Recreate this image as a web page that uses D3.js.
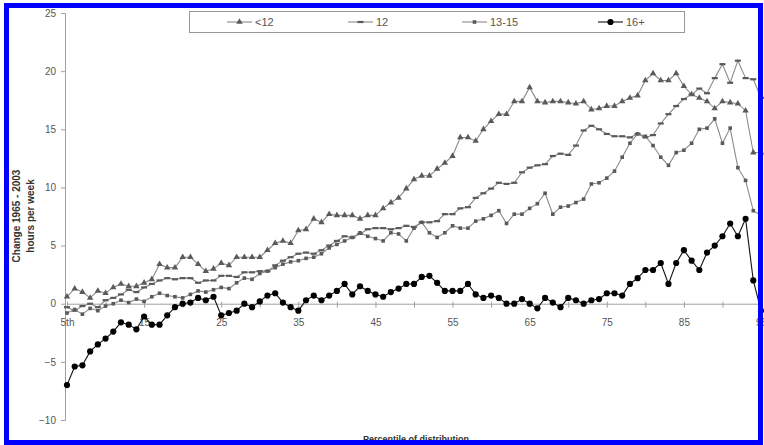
<!DOCTYPE html>
<html>
<head>
<meta charset="utf-8">
<script src="https://cdn.jsdelivr.net/npm/d3@7"></script>
<style>
  body { margin: 0; background: #fff; }
  svg { display: block; font-family: "Liberation Sans", Arial, sans-serif; }
</style>
</head>
<body>
<div id="canvas"></div>
<script>
// percentiles 5th .. 95th
const percentiles = d3.range(5, 96);

const xTickValues = [5, 10, 15, 20, 25, 30, 35, 40, 45, 50, 55, 60, 65, 70, 75, 80, 85, 90, 95];
const xTickLabels = { 5: "5th", 15: "15", 25: "25", 35: "35", 45: "45", 55: "55", 65: "65", 75: "75", 85: "85", 95: "95" };
const yTickValues = [-10, -5, 0, 5, 10, 15, 20, 25];

const seriesNames = ["<12", "12", "13-15", "16+"];

const lessThan12 = [
  0.6, 1.3, 1.0, 0.5, 1.1, 0.9, 1.4, 1.7, 1.5, 1.5,
  1.8, 2.1, 3.4, 3.1, 3.1, 4.0, 4.0, 3.4, 2.8, 3.0,
  3.5, 3.3, 4.0, 4.0, 4.0, 4.0, 4.6, 5.2, 5.4, 5.2,
  6.3, 6.4, 7.3, 7.0, 7.7, 7.6, 7.6, 7.6, 7.3, 7.6,
  7.6, 8.2, 8.7, 9.1, 9.9, 10.7, 11.0, 11.0, 11.6, 12.1,
  12.7, 14.3, 14.3, 14.0, 15.0, 15.7, 16.3, 16.3, 17.4, 17.4,
  18.6, 17.4, 17.3, 17.4, 17.4, 17.3, 17.2, 17.4, 16.7, 16.8,
  17.0, 17.0, 17.4, 17.7, 17.9, 19.2, 19.8, 19.2, 19.2, 19.8,
  18.7, 18.0, 17.7, 17.4, 16.8, 17.4, 17.3, 17.2, 16.6, 13.0,
  13.0
];

const twelve = [
  -0.3, -0.6, -0.2, 0.0, -0.3, 0.3, 0.5, 0.8, 1.2, 1.0,
  1.4, 1.7, 2.0, 2.2, 2.1, 2.2, 2.2, 1.8, 2.0, 2.0,
  2.4, 2.4, 2.3, 2.7, 2.7, 2.8, 2.8, 3.3, 3.7, 4.0,
  4.3, 4.4, 4.3, 4.6, 5.0, 5.4, 5.8, 5.7, 6.0, 6.4,
  6.5, 6.5, 6.4, 6.5, 6.7, 6.6, 7.0, 7.0, 7.1, 7.7,
  7.7, 8.2, 8.3, 9.1, 9.5, 9.9, 10.4, 10.3, 10.4, 11.3,
  11.7, 11.9, 12.0, 12.7, 12.9, 12.8, 13.6, 14.9, 15.3, 15.0,
  14.6, 14.4, 14.4, 14.3, 14.6, 14.3, 14.5, 15.5, 16.3, 17.0,
  17.6, 18.0, 18.5, 18.1, 19.4, 20.6, 19.0, 20.9, 19.4, 19.3,
  17.7
];

const thirteenTo15 = [
  -0.8, -0.5, -0.9, -0.4, -0.6, -0.2, 0.0, 0.3, 0.1, 0.4,
  0.2, 0.6, 0.9, 0.7, 0.6, 0.5, 0.8, 1.1, 1.0, 1.2,
  1.4, 1.3, 1.8, 2.2, 2.1, 2.6, 2.8, 3.1, 3.4, 3.6,
  3.7, 3.9, 4.0, 4.3, 4.8, 5.1, 5.4, 5.7, 6.1, 5.8,
  5.6, 5.4, 6.1, 6.0, 5.4, 6.5, 7.0, 6.1, 5.7, 6.1,
  6.7, 6.5, 6.5, 7.1, 7.3, 7.6, 8.0, 6.9, 7.7, 7.7,
  8.2, 8.6, 9.5, 7.7, 8.3, 8.4, 8.7, 9.0, 10.3, 10.4,
  10.8, 11.4, 12.6, 13.8, 14.6, 14.4, 13.6, 12.6, 11.9, 13.0,
  13.2, 13.8, 15.0, 15.1, 15.9, 13.8, 15.1, 11.7, 10.6, 8.0,
  7.6
];

const sixteenPlus = [
  -7.0, -5.4, -5.3, -4.1, -3.5, -3.0, -2.4, -1.6, -1.8, -2.2,
  -1.1, -1.8, -1.8, -1.0, -0.3, 0.0, 0.1, 0.5, 0.3, 0.6,
  -1.0, -0.8, -0.6, 0.0, -0.3, 0.2, 0.7, 0.9, 0.1, -0.3,
  -0.6, 0.3, 0.7, 0.3, 0.7, 1.1, 1.7, 0.8, 1.5, 1.1,
  0.8, 0.6, 1.0, 1.3, 1.7, 1.7, 2.3, 2.4, 1.8, 1.1,
  1.1, 1.1, 1.7, 0.8, 0.5, 0.7, 0.5, 0.0, 0.0, 0.4,
  0.0, -0.4, 0.5, 0.1, -0.3, 0.5, 0.3, 0.0, 0.3, 0.4,
  0.9, 0.9, 0.7, 1.7, 2.2, 2.9, 2.9, 3.5, 1.7, 3.5,
  4.6, 3.7, 2.9, 4.4, 5.0, 5.8, 6.9, 5.8, 7.3, 2.0,
  -0.6
];

const width = 764;
const height = 445;

const svg = d3.select("#canvas").append("svg")
    .attr("width", width)
    .attr("height", height);

svg.append("rect").attr("width", width).attr("height", height).attr("fill", "#fff");

const x = d3.scaleLinear().domain([5, 95]).range([67, 761]);
const y = d3.scaleLinear().domain([-10, 25]).range([420, 13]);

// y axis
const yAxis = svg.append("g")
    .attr("transform", `translate(${x(5) - 2},0)`)
    .call(d3.axisLeft(y).tickValues(yTickValues).tickSize(4).tickPadding(5));
yAxis.select(".domain").attr("stroke", "#a0a0a0");
yAxis.selectAll(".tick line").attr("stroke", "#a0a0a0");
yAxis.selectAll("text").attr("fill", "#555").style("font-size", "10px");

// x axis sits at zero
const xAxis = svg.append("g")
    .attr("transform", `translate(0,${y(0)})`)
    .call(d3.axisBottom(x).tickValues(xTickValues).tickSize(4).tickPadding(11)
        .tickFormat(d => xTickLabels[d] || ""));
xAxis.select(".domain").attr("stroke", "#a0a0a0");
xAxis.selectAll(".tick line").attr("stroke", "#a0a0a0").attr("y1", -2);
xAxis.selectAll("text").attr("fill", "#555").style("font-size", "10px");

const series = [
  { name: seriesNames[0], values: lessThan12, stroke: "#8a8a8a", marker: "triangle" },
  { name: seriesNames[1], values: twelve, stroke: "#8a8a8a", marker: "dash" },
  { name: seriesNames[2], values: thirteenTo15, stroke: "#8a8a8a", marker: "square" },
  { name: seriesNames[3], values: sixteenPlus, stroke: "#111", marker: "circle" }
];

const line = d3.line()
    .x((d, i) => x(percentiles[i]))
    .y(d => y(d));

function drawMarker(sel, kind, cx, cy) {
  if (kind === "triangle") {
    sel.append("path")
      .attr("d", d3.symbol().type(d3.symbolTriangle).size(18)())
      .attr("transform", `translate(${cx},${cy})`)
      .attr("fill", "#5a5a5a");
  } else if (kind === "dash") {
    sel.append("rect")
      .attr("x", cx - 3).attr("y", cy - 1.1).attr("width", 6).attr("height", 2.2)
      .attr("fill", "#5a5a5a");
  } else if (kind === "square") {
    sel.append("rect")
      .attr("x", cx - 1.8).attr("y", cy - 1.8).attr("width", 3.6).attr("height", 3.6)
      .attr("fill", "#5a5a5a");
  } else {
    sel.append("circle")
      .attr("cx", cx).attr("cy", cy).attr("r", 3.1)
      .attr("fill", "#000");
  }
}

series.forEach(s => {
  const g = svg.append("g").attr("class", "series");
  g.append("path")
    .datum(s.values)
    .attr("fill", "none")
    .attr("stroke", s.stroke)
    .attr("stroke-width", 1.1)
    .attr("d", line);
  s.values.forEach((v, i) => drawMarker(g, s.marker, x(percentiles[i]), y(v)));
});

// legend
const legend = svg.append("g");
legend.append("rect")
    .attr("x", 189.5).attr("y", 11.5).attr("width", 495).attr("height", 21)
    .attr("fill", "#fff").attr("stroke", "#999");
const legendX = [227, 348, 462, 598];
series.forEach((s, i) => {
  const lg = legend.append("g");
  lg.append("line")
    .attr("x1", legendX[i]).attr("x2", legendX[i] + 25)
    .attr("y1", 22).attr("y2", 22)
    .attr("stroke", s.stroke).attr("stroke-width", 1.1);
  drawMarker(lg, s.marker, legendX[i] + 12.5, 22);
  lg.append("text")
    .attr("x", legendX[i] + 28).attr("y", 26)
    .attr("fill", "#555")
    .style("font-size", "11px")
    .text(s.name);
});

// axis titles
svg.append("text")
    .attr("transform", "rotate(-90)")
    .attr("x", -216).attr("y", 20)
    .attr("text-anchor", "middle")
    .style("font-size", "10px").style("font-weight", "bold")
    .attr("fill", "#333")
    .text("Change 1965 - 2003");

svg.append("text")
    .attr("transform", "rotate(-90)")
    .attr("x", -216).attr("y", 34)
    .attr("text-anchor", "middle")
    .style("font-size", "10px").style("font-weight", "bold")
    .attr("fill", "#333")
    .text("hours per week");

svg.append("text")
    .attr("x", 416).attr("y", 442)
    .attr("text-anchor", "middle")
    .style("font-size", "9px").style("font-weight", "bold")
    .attr("fill", "#333")
    .text("Percentile of distribution");

// blue frame
svg.append("rect")
    .attr("x", 6.5).attr("y", 5.5).attr("width", 754).attr("height", 437)
    .attr("fill", "none")
    .attr("stroke", "#0000ff")
    .attr("stroke-width", 5);
</script>
</body>
</html>
